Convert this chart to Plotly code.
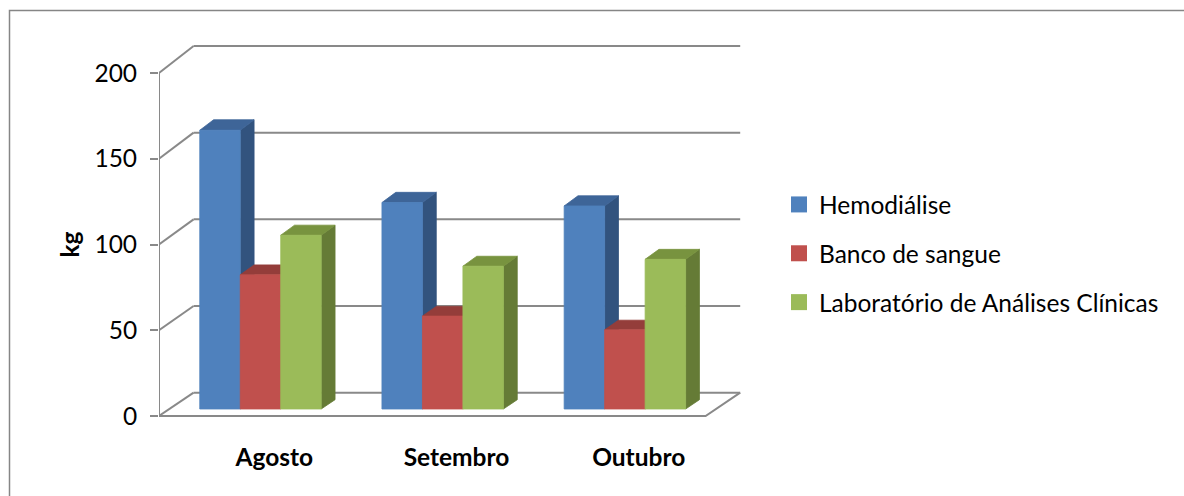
import plotly.graph_objects as go

# ---------------- data ----------------
categories = ["Agosto", "Setembro", "Outubro"]
series_names = ["Hemodiálise", "Banco de sangue", "Laboratório de Análises Clínicas"]
hemodialise = [162, 120, 118]
banco_de_sangue = [78, 54, 46]
laboratorio = [101, 83, 87]
y_ticks = [0, 50, 100, 150, 200]
y_title = "kg"

series_values = [hemodialise, banco_de_sangue, laboratorio]

# ---------------- styles ----------------
front_colors = ["#4F81BD", "#C0504D", "#9BBB59"]
top_colors = ["#3E6598", "#943D3A", "#78933F"]
side_colors = ["#32537E", "#7A3230", "#657B36"]
grid_color = "#898989"
FONT = "Lato"
FS = 24.5

W, H = 1184, 496
ML, MR, MT, MB = 159, 424, 30, 66
plot_w = W - ML - MR
plot_h = H - MT - MB
PX_PER_CAT = 182.2
PX_PER_KG = 1.715
FRONT_ZERO_PX = 416
x_range = [-0.5, -0.5 + plot_w / PX_PER_CAT]
y_range = [(FRONT_ZERO_PX - (H - MB)) / PX_PER_KG, (FRONT_ZERO_PX - MT) / PX_PER_KG]

# oblique depth projection (front plane -> back wall)
DEPTH_DX = 34.6 / PX_PER_CAT
DEPTH_DY0 = 13.59
DEPTH_K = 0.0108
BAR_F1, BAR_F2 = 0.3, 0.7
GAP_WIDTH = 1.5
n_series = len(series_values)
bar_w = 1.0 / (n_series + GAP_WIDTH)
x_lo, x_hi = -0.5, len(categories) - 0.5


def proj(x, v, f):
    return x + f * DEPTH_DX, v + f * (DEPTH_DY0 + DEPTH_K * v)


def paper_x(px):
    return (px - ML) / plot_w


def paper_y(py):
    return 1 - (py - MT) / plot_h


fig = go.Figure()


def add_line(points, width=2):
    xs, ys = zip(*points)
    fig.add_trace(go.Scatter(x=list(xs), y=list(ys), mode="lines",
                             line=dict(color=grid_color, width=width),
                             hoverinfo="skip", showlegend=False))


# back wall gridlines and left-side diagonals
for t in y_ticks:
    add_line([proj(x_lo, t, 1), proj(x_hi, t, 1)])
    add_line([proj(x_lo, t, 0), proj(x_lo, t, 1)])
# floor front and right edge
add_line([proj(x_lo, 0, 0), proj(x_hi, 0, 0), proj(x_hi, 0, 1)])
# front vertical axis
add_line([proj(x_lo, y_ticks[0], 0), proj(x_lo, y_ticks[-1], 0)])


def add_poly(corners, color):
    xs, ys = zip(*corners)
    fig.add_trace(go.Scatter(x=list(xs) + [xs[0]], y=list(ys) + [ys[0]],
                             mode="lines", fill="toself", fillcolor=color,
                             line=dict(color=color, width=0.8),
                             hoverinfo="skip", showlegend=False))


for i, cat in enumerate(categories):
    for j, vals in enumerate(series_values):
        v = vals[i]
        x0 = i - n_series * bar_w / 2 + j * bar_w
        x1 = x0 + bar_w
        # side
        add_poly([proj(x1, 0, BAR_F1), proj(x1, 0, BAR_F2),
                  proj(x1, v, BAR_F2), proj(x1, v, BAR_F1)], side_colors[j])
        # top
        add_poly([proj(x0, v, BAR_F1), proj(x1, v, BAR_F1),
                  proj(x1, v, BAR_F2), proj(x0, v, BAR_F2)], top_colors[j])
        # front
        add_poly([proj(x0, 0, BAR_F1), proj(x1, 0, BAR_F1),
                  proj(x1, v, BAR_F1), proj(x0, v, BAR_F1)], front_colors[j])

# legend entries
for j, name in enumerate(series_names):
    fig.add_trace(go.Scatter(x=[None], y=[None], mode="markers", name=name,
                             legendgroup=name,
                             marker=dict(symbol="square", size=16, color=front_colors[j])))

label_shift = 0.7 * DEPTH_DX

fig.add_annotation(text="<b>%s</b>" % y_title, textangle=-90,
                   xref="paper", x=paper_x(69), xanchor="center",
                   yref="y", y=100, yanchor="middle",
                   showarrow=False, font=dict(family=FONT, size=FS, color="black"))

fig.add_shape(type="rect", xref="paper", yref="paper",
              x0=paper_x(9.5), x1=paper_x(1200), y0=paper_y(10.5), y1=paper_y(520),
              line=dict(color="#868686", width=1.5), layer="below")

fig.update_layout(
    width=W, height=H,
    margin=dict(l=ML, r=MR, t=MT, b=MB, autoexpand=False),
    paper_bgcolor="white", plot_bgcolor="white",
    font=dict(family=FONT, size=FS, color="black"),
    xaxis=dict(range=x_range, showgrid=False, zeroline=False, showline=False,
               tickvals=[i + label_shift for i in range(len(categories))],
               ticktext=["<b>%s</b>" % c for c in categories],
               ticks="", ticklabelstandoff=10,
               tickfont=dict(family=FONT, size=FS, color="black")),
    yaxis=dict(range=y_range, showgrid=False, zeroline=False, showline=False,
               tickvals=y_ticks, ticks="outside", ticklen=8, tickwidth=2,
               tickcolor=grid_color, ticklabelstandoff=8,
               tickfont=dict(family=FONT, size=FS, color="black")),
    legend=dict(x=paper_x(779), y=paper_y(182), xanchor="left", yanchor="top",
                traceorder="grouped", tracegroupgap=14,
                font=dict(family=FONT, size=FS, color="black"),
                bgcolor="rgba(0,0,0,0)"),
    showlegend=True,
)

fig.write_html("out.html")
